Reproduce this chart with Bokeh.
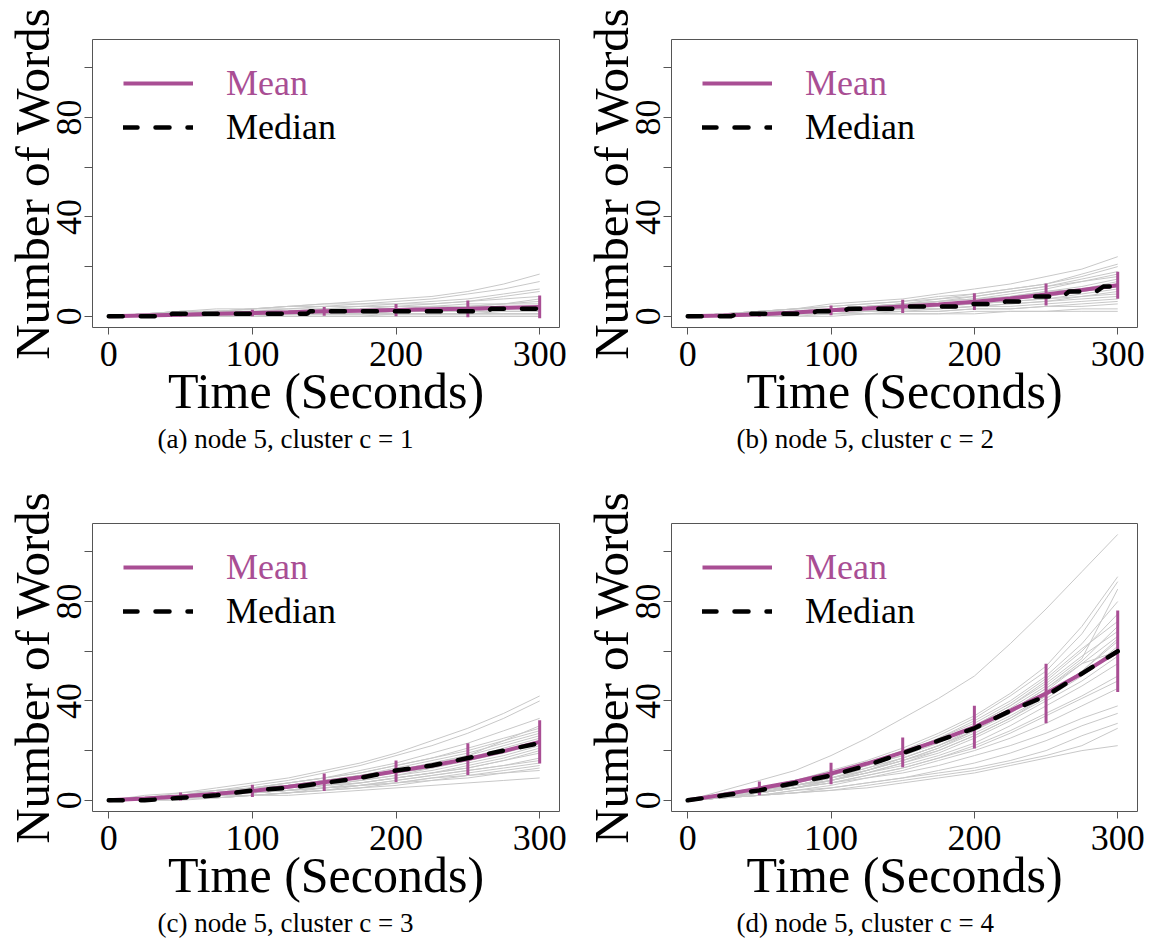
from bokeh.plotting import figure
from bokeh.layouts import gridplot
from bokeh.models import Legend, LegendItem, Title, FixedTicker, Range1d
from bokeh.embed import file_html
from bokeh.resources import INLINE

# ---------------- data ----------------
TIME = [0, 25, 50, 75, 100, 125, 150, 175, 200, 225, 250, 275, 300]
X_TICKS = [0, 100, 200, 300]
Y_TICKS = [0, 20, 40, 60, 80, 100]
Y_TICK_LABELS = {0: "0", 20: "", 40: "40", 60: "", 80: "80", 100: ""}

# individual trajectories (words spoken), sampled every 25 s
gray_a = [
    [0,0,0,0,0,0,0,0,0,0,0,0,0],
    [0,0,0,0,0,0,0,0,0,0,0,0,0],
    [0,0,0,0,0,0,0,0,1,1,1,1,1],
    [0,0,0,1,1,1,1,1,1,1,1,1,1],
    [0,0,0,0,1,1,1,1,1,1,1,2,2],
    [0,0,1,1,1,1,1,2,2,2,2,2,2],
    [0,1,1,1,1,2,2,2,2,2,3,3,3],
    [0,0,0,1,1,1,1,1,2,2,2,3,3],
    [0,0,1,1,1,1,2,2,2,2,2,2,2],
    [0,1,1,2,2,2,3,3,3,3,4,4,4],
    [0,0,0,0,0,1,1,1,1,1,1,1,1],
    [0,1,1,1,2,2,2,3,3,4,4,5,6],
    [0,1,2,2,2,3,3,4,4,4,5,5,5],
    [0,0,1,1,1,1,1,1,2,3,4,5,7],
    [0,1,2,2,3,3,4,4,5,5,6,7,8],
    [0,0,1,2,2,2,3,3,4,5,6,8,10],
    [0,1,1,2,3,4,4,5,5,6,7,9,11],
    [0,1,2,2,3,4,5,5,6,7,9,11,14],
    [0,1,2,3,3,4,5,6,7,8,10,13,17],
]
gray_b = [
    [0,0,1,1,2,2,3,3,4,5,6,8,10],
    [0,1,1,2,3,4,5,6,7,9,11,14,17],
    [0,1,2,3,4,5,6,8,9,11,13,16,20],
    [0,1,2,3,5,6,7,9,11,13,16,19,24],
    [0,0,1,1,2,3,4,5,6,7,8,10,12],
    [0,1,1,2,2,3,4,4,5,6,7,8,9],
    [0,0,0,1,1,1,2,2,3,3,4,4,5],
    [0,0,0,0,1,1,1,1,2,2,2,3,3],
    [0,1,1,2,3,3,4,5,6,8,10,12,15],
    [0,0,1,2,2,3,3,4,5,6,7,9,11],
    [0,1,2,3,3,4,5,6,7,8,10,11,13],
    [0,0,1,1,1,2,2,3,4,5,6,7,8],
    [0,1,2,2,3,4,5,7,8,10,12,15,18],
    [0,0,1,1,2,2,3,3,4,4,5,6,7],
    [0,1,1,2,3,4,5,6,8,10,12,14,16],
    [0,0,0,1,1,2,2,2,3,3,4,5,6],
    [0,1,2,3,4,5,6,7,9,11,13,17,21],
    [0,0,1,2,2,3,4,5,6,7,9,11,14],
    [0,0,0,0,0,1,1,1,1,2,2,2,2],
    [0,1,1,2,3,3,4,5,6,7,8,10,12],
]
gray_c = [
    [0,1,1,2,3,4,6,7,9,11,14,17,21],
    [0,1,2,3,5,6,8,10,13,16,19,23,27],
    [0,1,2,4,5,7,9,12,15,19,23,28,33],
    [0,1,3,4,6,8,11,14,18,22,27,33,40],
    [0,2,3,5,7,9,12,15,19,24,29,35,42],
    [0,0,1,1,2,3,4,5,6,8,9,11,13],
    [0,0,1,1,2,2,3,4,5,6,7,8,9],
    [0,1,1,2,3,4,5,6,8,10,12,14,17],
    [0,1,2,3,4,5,7,9,11,13,16,19,23],
    [0,0,1,2,3,4,6,7,9,11,13,16,19],
    [0,1,2,3,4,6,8,10,12,14,17,21,25],
    [0,1,1,2,3,5,6,8,10,13,16,20,24],
    [0,0,1,2,2,3,4,6,7,9,11,13,15],
    [0,1,2,3,5,6,8,10,12,15,18,22,26],
    [0,1,2,3,4,6,7,9,12,15,18,24,30],
    [0,0,1,1,2,3,5,6,8,10,12,14,16],
    [0,1,2,3,4,5,6,8,10,12,15,18,22],
    [0,1,2,4,5,7,9,11,14,17,21,25,29],
    [0,0,0,1,2,3,4,5,7,8,10,12,14],
    [0,1,1,2,3,4,5,7,9,11,13,16,20],
    [0,1,2,3,5,7,9,11,14,17,20,24,28],
    [0,0,1,2,3,4,5,6,7,9,10,11,12],
]
gray_d = [
    [0,4,8,12,18,25,33,41,50,63,77,92,107],
    [0,2,5,8,12,16,21,27,34,43,54,70,90],
    [0,2,4,7,11,15,20,26,33,42,52,67,88],
    [0,3,5,8,11,15,19,25,32,40,50,63,80],
    [0,2,4,7,10,14,18,23,30,38,48,60,75],
    [0,2,4,6,9,13,17,22,28,36,45,56,70],
    [0,1,3,6,9,12,16,21,27,34,42,52,65],
    [0,2,4,6,8,12,16,20,26,33,41,50,62],
    [0,1,3,5,8,11,15,19,25,32,40,48,58],
    [0,2,4,6,8,11,14,18,23,30,38,46,55],
    [0,1,3,5,7,10,13,17,22,28,35,42,50],
    [0,2,3,5,7,10,13,17,21,27,34,41,48],
    [0,1,2,4,6,9,12,16,20,25,31,38,45],
    [0,1,3,5,7,9,11,14,18,22,27,33,38],
    [0,1,2,4,5,7,9,12,15,19,24,30,35],
    [0,1,2,3,5,7,9,11,13,16,20,26,31],
    [0,1,2,3,4,6,8,10,12,15,18,22,29],
    [0,1,2,3,4,5,7,9,11,14,17,20,22],
    [0,2,4,7,10,14,19,25,31,39,49,61,72],
    [0,2,5,7,10,14,18,24,30,38,47,58,68],
    [0,1,3,5,8,12,16,21,28,36,45,55,66],
    [0,2,4,6,9,13,17,22,29,37,46,57,85],
    [0,1,3,6,9,12,17,22,28,35,44,55,60],
    [0,2,3,5,8,11,15,20,26,33,42,52,64],
]

# mean trajectory (every 25 s) and error-bar half widths (at 50..300 s)
mean_a = [0, 0.3, 0.6, 1.0, 1.3, 1.6, 2.0, 2.2, 2.5, 2.8, 3.0, 3.4, 3.8]
mean_b = [0, 0.3, 0.8, 1.5, 2.4, 3.1, 4.0, 4.8, 5.9, 7.2, 8.8, 10.6, 12.5]
mean_c = [0, 0.7, 1.5, 2.6, 3.8, 5.5, 7.3, 9.3, 11.7, 14.0, 16.6, 19.8, 23.5]
mean_d = [0, 2.3, 4.8, 7.5, 10.8, 14.8, 19.3, 24.0, 29.5, 36.0, 43.0, 51.0, 60.0]
err_a = [0.7, 1.3, 1.8, 2.5, 3.4, 4.6]
err_b = [1.0, 2.0, 2.7, 3.4, 4.4, 5.4]
err_c = [1.6, 2.5, 3.5, 4.3, 6.4, 8.7]
err_d = [2.8, 4.3, 6.0, 8.6, 12.0, 16.4]

# median trajectories
med_t_a = [0, 42, 44, 138, 140, 264, 266, 300]
med_v_a = [0, 0, 1, 1, 2, 2, 3, 3]
med_t_b = [0, 30, 35, 85, 90, 108, 112, 150, 155, 190, 195, 218, 222, 232, 236, 262, 266, 285, 290, 300]
med_v_b = [0, 0, 1, 1, 2, 2, 3, 3, 4, 4, 5, 5, 6, 6, 8, 8, 10, 10, 12, 12]
med_t_c = TIME
med_v_c = [0, 0, 1, 2, 4, 5, 7, 9, 12, 14, 17, 20, 23]
med_t_d = TIME
med_v_d = [0, 2, 4, 7, 10, 14, 19, 24, 29, 36, 42, 51, 60]

CAPTIONS = ["(a) node 5, cluster c = 1", "(b) node 5, cluster c = 2",
            "(c) node 5, cluster c = 3", "(d) node 5, cluster c = 4"]

PURPLE = "#A94E94"
GRAY = "#C8C8C8"
FONT = "Liberation Serif"


def make_panel(caption, gray, mean, err, med_t, med_v,
               width, height, b_left, b_right, b_top, b_bottom):
    p = figure(width=width, height=height, output_backend="svg",
               toolbar_location=None,
               x_range=Range1d(-11.3, 313.8), y_range=Range1d(-4.5, 111.4),
               min_border_left=b_left, min_border_right=b_right,
               min_border_top=b_top, min_border_bottom=b_bottom)
    p.outline_line_color = "#555555"
    p.outline_line_width = 1
    p.xgrid.visible = False
    p.ygrid.visible = False
    p.background_fill_color = "white"
    p.border_fill_color = "white"

    p.multi_line([TIME] * len(gray), gray, line_color=GRAY, line_width=1)
    mean_r = p.line(TIME, mean, line_color=PURPLE, line_width=4)
    et = TIME[2::2]
    em = mean[2::2]
    p.segment(x0=et, y0=[m - e for m, e in zip(em, err)],
              x1=et, y1=[m + e for m, e in zip(em, err)],
              line_color=PURPLE, line_width=3)
    med_r = p.line(med_t, med_v, line_color="black", line_width=4.5,
                   line_dash="14 18", line_cap="round")

    for ax in (p.xaxis, p.yaxis):
        ax.axis_line_color = None
        ax.major_tick_line_color = "#555555"
        ax.minor_tick_line_color = None
        ax.major_tick_in = 0
        ax.major_label_text_font = FONT
        ax.major_label_text_font_size = "36px"
        ax.major_label_text_color = "black"
        ax.axis_label_text_font = FONT
        ax.axis_label_text_font_style = "normal"
        ax.axis_label_text_color = "black"
    p.xaxis.axis_label_text_font_size = "50px"
    p.yaxis.axis_label_text_font_size = "49px"
    p.xaxis.ticker = FixedTicker(ticks=X_TICKS)
    p.yaxis.ticker = FixedTicker(ticks=Y_TICKS)
    p.yaxis.major_label_overrides = Y_TICK_LABELS
    p.yaxis.major_label_orientation = "vertical"
    p.xaxis.major_tick_out = 7
    p.yaxis.major_tick_out = 8
    p.xaxis.major_label_standoff = 7
    p.yaxis.major_label_standoff = 3
    p.xaxis.axis_label = "Time (Seconds)"
    p.yaxis.axis_label = "Number of Words"
    p.xaxis.axis_label_standoff = -6
    p.yaxis.axis_label_standoff = -5

    leg1 = Legend(items=[LegendItem(label="Mean", renderers=[mean_r])],
                  location=(31, 223))
    leg2 = Legend(items=[LegendItem(label="Median", renderers=[med_r])],
                  location=(31, 179))
    leg1.label_text_color = PURPLE
    leg2.label_text_color = "black"
    for lg in (leg1, leg2):
        lg.glyph_width = 70
        lg.glyph_height = 30
        lg.label_height = 30
        lg.label_standoff = 33
        lg.padding = 0
        lg.margin = 0
        lg.spacing = 0
        lg.border_line_color = None
        lg.background_fill_alpha = 0
        lg.label_text_font = FONT
        lg.label_text_font_size = "36px"
        lg.label_text_baseline = "middle"
        p.add_layout(lg, "center")

    cap = Title(text=caption, align="left", offset=65, standoff=0,
                text_font=FONT, text_font_size="27px",
                text_font_style="normal", text_color="black")
    p.add_layout(cap, "below")
    return p


pa = make_panel(CAPTIONS[0], gray_a, mean_a, err_a, med_t_a, med_v_a, 579, 492, 92, 20, 39, 165)
pb = make_panel(CAPTIONS[1], gray_b, mean_b, err_b, med_t_b, med_v_b, 573, 492, 92, 15, 39, 165)
pc = make_panel(CAPTIONS[2], gray_c, mean_c, err_c, med_t_c, med_v_c, 579, 451, 92, 20, 31, 132)
pd = make_panel(CAPTIONS[3], gray_d, mean_d, err_d, med_t_d, med_v_d, 573, 451, 92, 15, 31, 132)

grid = gridplot([[pa, pb], [pc, pd]], toolbar_location=None)

open("out.html", "w").write(file_html(grid, INLINE))
